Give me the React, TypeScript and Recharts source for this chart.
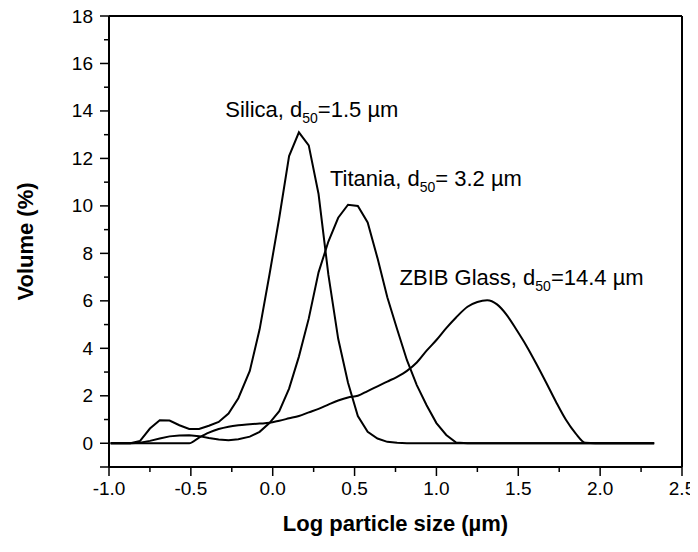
import React from 'react';
import { LineChart, Line, XAxis, YAxis, ReferenceDot } from 'recharts';

// log10 of particle size (µm), one entry per size bin
const logSize = [
  -0.99, -0.93, -0.87, -0.81, -0.75, -0.69, -0.63, -0.57, -0.51, -0.45,
  -0.39, -0.33, -0.27, -0.21, -0.14, -0.08, -0.02, 0.04, 0.1, 0.16,
  0.22, 0.28, 0.34, 0.4, 0.46, 0.52, 0.58, 0.64, 0.7, 0.76,
  0.82, 0.88, 0.94, 1.0, 1.06, 1.12, 1.19, 1.25, 1.31, 1.37,
  1.43, 1.49, 1.55, 1.61, 1.67, 1.73, 1.79, 1.85, 1.91, 1.97,
  2.03, 2.09, 2.15, 2.21, 2.27, 2.33,
];

// volume %
const silica = [
  0, 0, 0, 0.1, 0.62, 0.97, 0.96, 0.76, 0.6, 0.6,
  0.74, 0.9, 1.25, 1.9, 3.05, 4.8, 7.1, 9.5, 12.1, 13.1,
  12.55, 10.5, 7.1, 4.4, 2.55, 1.15, 0.48, 0.2, 0.06, 0.02,
  0, 0, 0, 0, 0, 0, 0, 0, 0, 0,
  0, 0, 0, 0, 0, 0, 0, 0, 0, 0,
  0, 0, 0, 0, 0, 0,
];

const titania = [
  0, 0, 0, 0.02, 0.1, 0.2, 0.29, 0.33, 0.34, 0.3,
  0.22, 0.16, 0.13, 0.17, 0.28, 0.48, 0.85, 1.35, 2.3, 3.65,
  5.25, 7.2, 8.5, 9.5, 10.05, 10.0, 9.3, 7.8, 6.15, 4.8,
  3.5, 2.45, 1.6, 0.85, 0.35, 0.03, 0, 0, 0, 0,
  0, 0, 0, 0, 0, 0, 0, 0, 0, 0,
  0, 0, 0, 0, 0, 0,
];

const zbib = [
  0, 0, 0, 0, 0, 0, 0, 0, 0, 0.24,
  0.45, 0.6, 0.7, 0.76, 0.8, 0.83, 0.86, 0.95, 1.05, 1.15,
  1.3, 1.45, 1.63, 1.8, 1.93, 2.0, 2.2, 2.4, 2.6, 2.8,
  3.05, 3.4, 3.9, 4.35, 4.85, 5.3, 5.75, 5.95, 6.02, 5.85,
  5.4, 4.77, 4.1, 3.35, 2.56, 1.75, 1.0, 0.42, 0.02, 0,
  0, 0, 0, 0, 0, 0,
];

const xTicks = [-1, -0.75, -0.5, -0.25, 0, 0.25, 0.5, 0.75, 1, 1.25, 1.5, 1.75, 2, 2.25, 2.5];
const xLabelTicks = [-1, -0.5, 0, 0.5, 1, 1.5, 2, 2.5];
const yTicks = [-1, 0, 1, 2, 3, 4, 5, 6, 7, 8, 9, 10, 11, 12, 13, 14, 15, 16, 17, 18];
const yLabelTicks = [0, 2, 4, 6, 8, 10, 12, 14, 16, 18];

const notes = [
  { x: -0.29, y: 13.75, lead: 'Silica, d', sub: '50', tail: '=1.5 µm' },
  { x: 0.35, y: 10.83, lead: 'Titania, d', sub: '50', tail: '= 3.2 µm' },
  { x: 0.775, y: 6.66, lead: 'ZBIB Glass, d', sub: '50', tail: '=14.4 µm' },
];

const data = logSize.map((x, i) => ({ x, silica: silica[i], titania: titania[i], zbib: zbib[i] }));

const FONT = '"Liberation Sans", Arial, sans-serif';

function BottomTick(props: any) {
  const { x, y, payload } = props;
  const v = payload.value;
  const axisY = y - 9 - 4;
  const major = xLabelTicks.includes(v);
  return (
    <g>
      <line x1={x} x2={x} y1={axisY} y2={axisY + (major ? 9 : 5)} stroke="#000" strokeWidth={1.5} />
      {major && (
        <text x={x} y={axisY + 28} textAnchor="middle" fontSize={19} fontFamily={FONT} fill="#000">
          {v.toFixed(1)}
        </text>
      )}
    </g>
  );
}

function LeftTick(props: any) {
  const { x, y, payload } = props;
  const v = payload.value;
  const axisX = x + 9 + 4;
  const major = v % 2 === 0 || v === -1;
  return (
    <g>
      <line x1={axisX} x2={axisX - (major ? 9 : 5)} y1={y} y2={y} stroke="#000" strokeWidth={1.5} />
      {yLabelTicks.includes(v) && (
        <text x={axisX - 16} y={y + 6.5} textAnchor="end" fontSize={19} fontFamily={FONT} fill="#000">
          {v}
        </text>
      )}
    </g>
  );
}

function noteLabel(n: (typeof notes)[number]) {
  return (props: any) => {
    const vb = props.viewBox || {};
    const x = (vb.x ?? 0) + (vb.width ?? 0) / 2;
    const y = (vb.y ?? 0) + (vb.height ?? 0) / 2;
    return (
      <text x={x} y={y} fontSize={22} fontFamily={FONT} fill="#000">
        {n.lead}
        <tspan fontSize={14} dy={6}>{n.sub}</tspan>
        <tspan dy={-6}>{n.tail}</tspan>
      </text>
    );
  };
}

export default function App() {
  return (
    <div style={{ marginTop: -8 }}>
      <LineChart width={690} height={552} data={data} margin={{ top: 16, right: 16, bottom: 25, left: 41 }}>
        <XAxis
          dataKey="x"
          type="number"
          domain={[-1, 2.5]}
          ticks={xTicks}
          interval={0}
          height={60}
          tickSize={9}
          tickMargin={4}
          tickLine={false}
          tick={<BottomTick />}
          axisLine={{ stroke: '#000', strokeWidth: 2 }}
          label={{
            content: (p: any) => {
              const vb = p.viewBox || {};
              return (
                <text
                  x={vb.x + vb.width / 2}
                  y={vb.y + 64}
                  textAnchor="middle"
                  fontSize={22}
                  fontWeight="bold"
                  fontFamily={FONT}
                  fill="#000"
                >
                  Log particle size (µm)
                </text>
              );
            },
          }}
        />
        <XAxis
          xAxisId="top"
          orientation="top"
          mirror
          type="number"
          domain={[-1, 2.5]}
          ticks={xTicks}
          interval={0}
          tickSize={4}
          tick={false}
          tickLine={{ stroke: '#000', strokeWidth: 1.5 }}
          axisLine={{ stroke: '#000', strokeWidth: 2 }}
        />
        <YAxis
          type="number"
          domain={[-1, 18]}
          ticks={yTicks}
          interval={0}
          width={60}
          tickSize={9}
          tickMargin={4}
          tickLine={false}
          tick={<LeftTick />}
          axisLine={{ stroke: '#000', strokeWidth: 2 }}
          label={{
            content: (p: any) => {
              const vb = p.viewBox || {};
              const cx = vb.x - 16;
              const cy = vb.y + vb.height / 2;
              return (
                <text
                  x={cx}
                  y={cy}
                  transform={`rotate(-90 ${cx} ${cy})`}
                  textAnchor="middle"
                  fontSize={22}
                  fontWeight="bold"
                  fontFamily={FONT}
                  fill="#000"
                >
                  Volume (%)
                </text>
              );
            },
          }}
        />
        <YAxis
          yAxisId="right"
          orientation="right"
          mirror
          type="number"
          domain={[-1, 18]}
          ticks={yTicks}
          interval={0}
          tickSize={4}
          tick={false}
          tickLine={{ stroke: '#000', strokeWidth: 1.5 }}
          axisLine={{ stroke: '#000', strokeWidth: 2 }}
        />
        <Line type="linear" dataKey="silica" stroke="#000" strokeWidth={2} dot={false} isAnimationActive={false} />
        <Line type="linear" dataKey="titania" stroke="#000" strokeWidth={2} dot={false} isAnimationActive={false} />
        <Line type="monotone" dataKey="zbib" stroke="#000" strokeWidth={2} dot={false} isAnimationActive={false} />
        {notes.map((n) => (
          <ReferenceDot
            key={n.lead}
            x={n.x}
            y={n.y}
            r={0}
            fill="none"
            stroke="none"
            label={{ content: noteLabel(n) }}
          />
        ))}
      </LineChart>
    </div>
  );
}
